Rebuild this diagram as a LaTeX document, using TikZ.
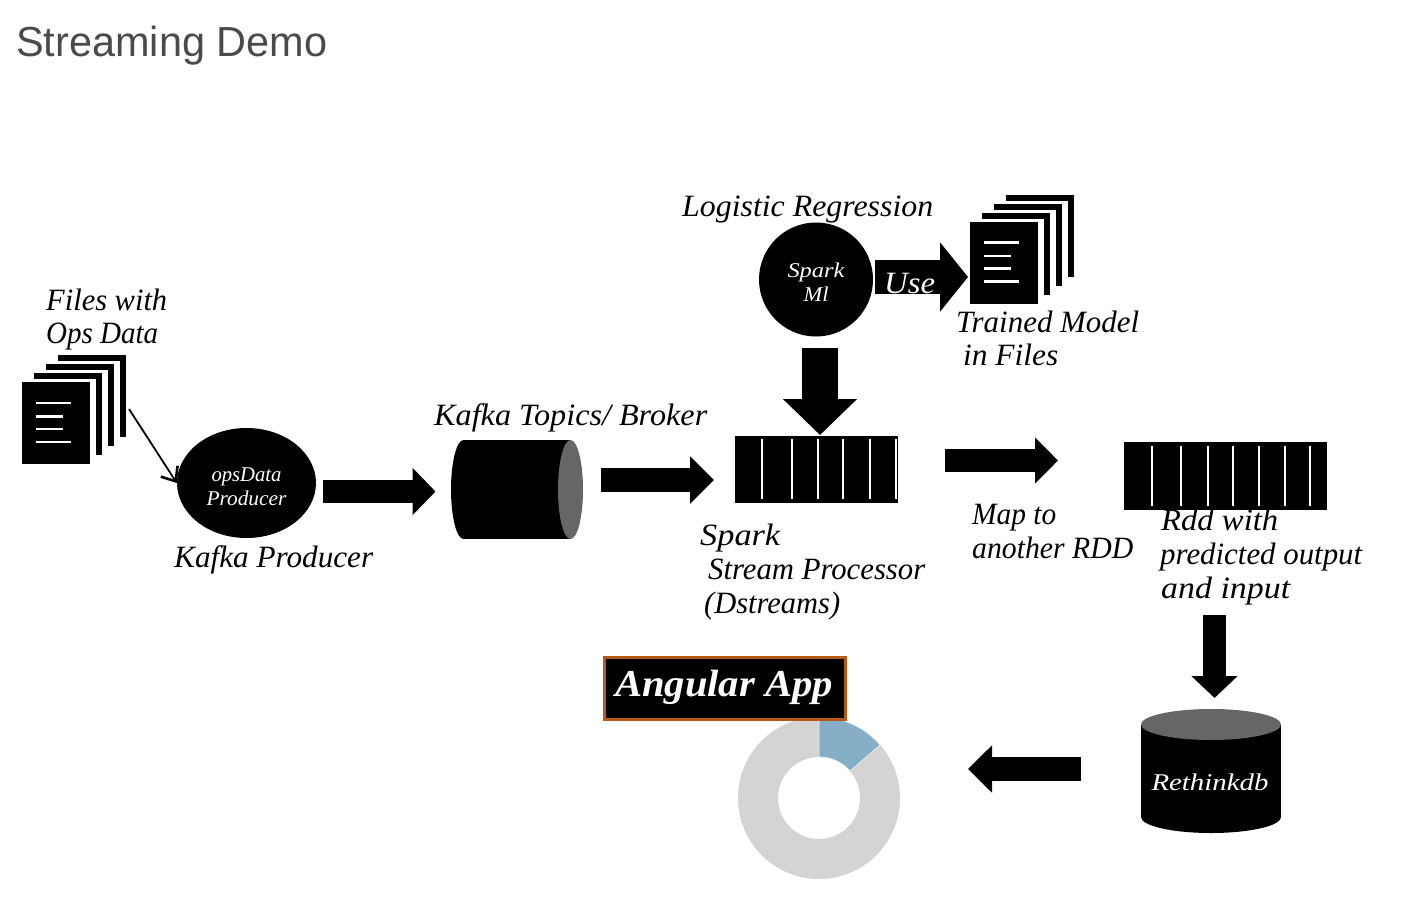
\documentclass[tikz,border=0pt]{standalone}
\usepackage{fontspec}
\usepackage{graphicx}
\usetikzlibrary{arrows.meta,calc,shapes.geometric}
\setmainfont{Liberation Serif}
\newfontfamily\titlefont{Liberation Sans}
\definecolor{titlegray}{HTML}{4A4A4A}
\definecolor{endgray}{HTML}{666666}
\definecolor{ringgray}{HTML}{D4D4D4}
\definecolor{ringblue}{HTML}{86AEC7}
\definecolor{boxbrown}{HTML}{B5591A}
\newcommand{\fitw}[2]{\resizebox{#1pt}{\height}{#2}}
\tikzset{
  x=1pt,y=-1pt,
  hand/.style={anchor=base west,inner sep=0pt,yshift=-1.5pt,font=\fontsize{31}{31}\selectfont\itshape,text=black},
  handw/.style={anchor=base,inner sep=0pt,font=\fontsize{21}{21}\selectfont\itshape,text=white},
  flow/.style={line width=#1pt,draw=black},
  slot/.style={draw=white,line width=2.6pt},
}
% name, start, tip, shaft width, head length, head width
\newcommand{\flowarrow}[6]{%
  \coordinate (#1-a) at (#2);\coordinate (#1-b) at (#3);
  \draw[flow=#4,-{Triangle[length=#5pt,width=#6pt]}] (#1-a) -- (#1-b);}
% name, dx, dy : stack of pages
\newcommand{\docstack}[3]{%
  \begin{scope}[shift={(#2,#3)}]
  \foreach \o in {3,2,1,0}{
    \fill[white] (22+12*\o,382-9*\o-3) rectangle (90+12*\o+6,464-9*\o);
    \fill[black] (22+12*\o,382-9*\o) rectangle (90+12*\o,464-9*\o);
  }
  \node[inner sep=0pt,minimum width=68pt,minimum height=82pt] (#1) at (56,423) {};
  \draw[slot] (36,403) -- (71,403) (36,416.5) -- (63,416.5) (36,429) -- (63,429) (36,442) -- (71,442);
  \end{scope}}
\begin{document}
\begin{tikzpicture}
\useasboundingbox (0,0) rectangle (1405,899);
\fill[white] (0,0) rectangle (1405,899);
\node[anchor=base west,inner sep=0pt,text=titlegray,font=\titlefont\fontsize{42}{42}\selectfont] (title) at (16,57) {\fitw{311}{Streaming Demo}};

% file stacks
\docstack{opsfiles}{0}{0}
\docstack{modelfiles}{947.5}{-160.5}
\node[hand] (filesa) at (46,309) {\fitw{121}{Files with}};
\node[hand] (filesb) at (46,342) {\fitw{112}{Ops Data}};
\node[hand] (trainedA) at (956,331) {\fitw{183}{Trained Model}};
\node[hand] (trainedB) at (963,364) {\fitw{95}{in Files}};

% producer
\node[ellipse,fill=black,inner sep=0pt,minimum width=139pt,minimum height=110pt] (producer) at (246.5,483) {};
\node[handw] (producerA) at (246.5,481) {\fitw{70}{opsData}};
\node[handw] (producerB) at (246.5,505) {\fitw{80}{Producer}};
\node[hand] (producerlabel) at (174,566) {\fitw{199}{Kafka Producer}};
\coordinate (opsfrom) at (129,409);
\draw[line width=1.8pt,-{Straight Barb[length=12pt,width=20pt,line width=2.6pt]}] (opsfrom) -- (producer.west);
\flowarrow{toKafka}{323,491.5}{435.5,491.5}{23}{23}{46}

% kafka cylinder
\fill[black] (463.5,489.5) ellipse [x radius=12.5pt,y radius=49.5pt];
\fill[black] (463.5,440) rectangle (570.5,539);
\fill[endgray] (570.5,489.5) ellipse [x radius=12.5pt,y radius=49.5pt];
\node[inner sep=0pt,minimum width=132pt,minimum height=99pt] (kafka) at (517,489.5) {};
\node[hand] (kafkalabel) at (434,424) {\fitw{273}{Kafka Topics/ Broker}};
\flowarrow{toSpark}{601,480}{714,480}{24}{24}{46}

% spark stream
\node[inner sep=0pt,fill=black,minimum width=163pt,minimum height=67pt] (stream) at (816.5,469.5) {};
\foreach \sx in {762,792,818,843,870,896}{\draw[slot] (\sx,439) -- (\sx,499);}
\node[hand] (streamA) at (700,544) {\fitw{80}{Spark}};
\node[hand] (streamB) at (708,578) {\fitw{217}{Stream Processor}};
\node[hand] (streamC) at (704,612) {\fitw{136}{(Dstreams)}};

% spark ml
\node[circle,fill=black,inner sep=0pt,minimum size=114pt] (ml) at (816,279.5) {};
\node[handw] at (816,277) {\fitw{57}{Spark}};
\node[handw] at (816,301) {\fitw{25}{Ml}};
\node[hand] (lr) at (682,215) {\fitw{251}{Logistic Regression}};
\flowarrow{useArrow}{875,277}{968,277}{34}{28}{68}
\node[hand,text=white] (use) at (884,292) {\fitw{51}{Use}};
\flowarrow{mlDown}{820,348}{820,435}{36}{36}{72}

% map
\flowarrow{toRdd}{945,460.5}{1058,460.5}{23}{23}{45}
\node[hand] (mapA) at (972,523) {\fitw{84}{Map to}};
\node[hand] (mapB) at (972,557) {\fitw{161}{another RDD}};

% rdd
\node[inner sep=0pt,fill=black,minimum width=203pt,minimum height=68pt] (rdd) at (1225.5,476) {};
\foreach \sx in {1152,1181,1208,1233,1259,1285,1310}{\draw[slot] (\sx,446) -- (\sx,506);}
\node[hand] (rddA) at (1161,529) {\fitw{117}{Rdd with}};
\node[hand] (rddB) at (1160,563) {\fitw{202}{predicted output}};
\node[hand] (rddC) at (1161,597) {\fitw{129}{and input}};
\flowarrow{rddDown}{1214.5,615}{1214.5,698}{23}{22}{45}

% rethinkdb
\fill[black] (1211,817) ellipse [x radius=70pt,y radius=16pt];
\fill[black] (1141,724.5) rectangle (1281,817);
\fill[endgray] (1211,724.5) ellipse [x radius=70pt,y radius=15.5pt];
\node[handw,font=\fontsize{24}{24}\selectfont\itshape] (rethink) at (1210,790) {\fitw{117}{Rethinkdb}};
\flowarrow{toApp}{1081,769}{968,769}{24}{24}{46}

% donut
\coordinate (donut) at (819,798);
\fill[ringgray,even odd rule] (donut) circle [radius=81pt] (donut) circle [radius=41pt];
\fill[ringblue,draw=white,line width=0.5pt] ($(donut)+(0pt,41pt)$) -- ($(donut)+(0pt,81pt)$)
  arc[start angle=90,end angle=41,radius=81pt] -- ($(donut)+(31pt,27pt)$)
  arc[start angle=41,end angle=90,radius=41pt] -- cycle;

% angular box
\node[draw=boxbrown,line width=3pt,fill=black,minimum width=241pt,minimum height=62pt,inner sep=0pt] (app) at (725,688.5) {};
\node[anchor=base,inner sep=0pt,text=white,font=\fontsize{38}{38}\selectfont\bfseries\itshape] (applabel) at (724,696) {\fitw{218}{Angular App}};
\end{tikzpicture}
\end{document}
